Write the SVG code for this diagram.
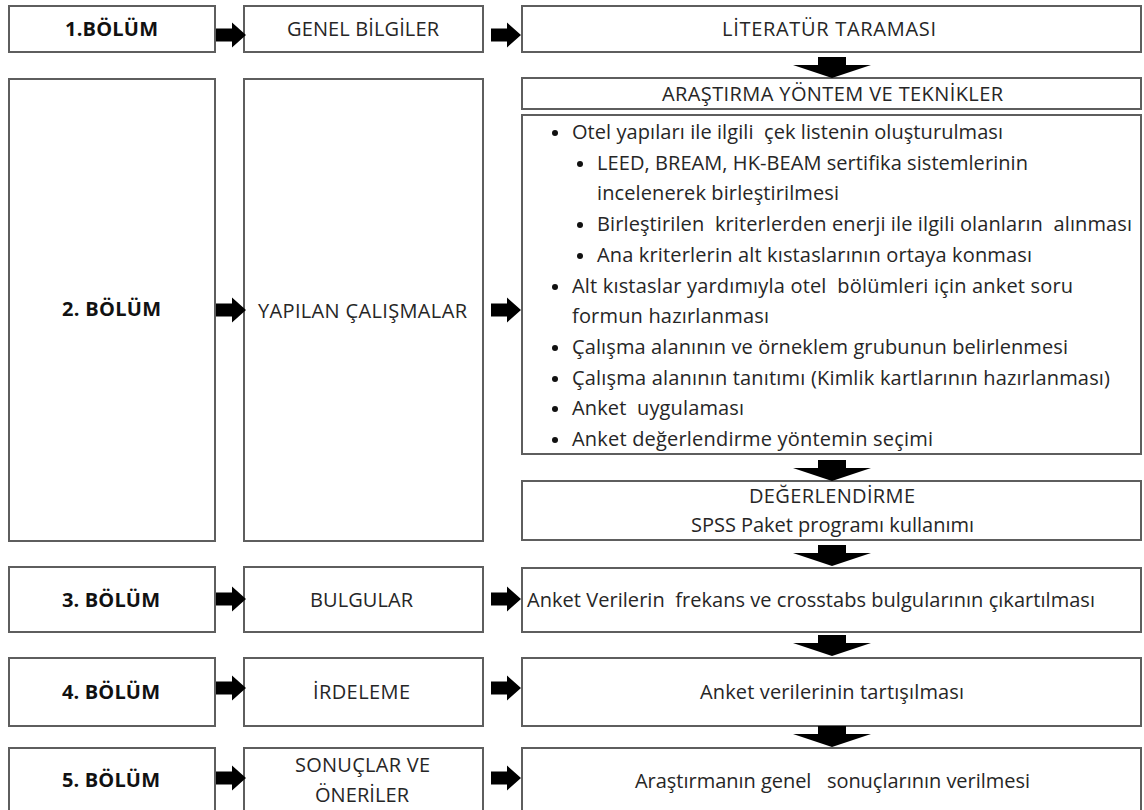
<svg xmlns="http://www.w3.org/2000/svg" width="1144" height="810" viewBox="0 0 1144 810">
<style>
.box{fill:#fff;stroke:#5e5e5e;stroke-width:2}
.t{font-family:"Open Sans","Noto Sans",Lato,"Liberation Sans",sans-serif;font-size:20px;fill:#262626;white-space:pre}
.b{font-weight:bold;fill:#111}
.c{text-anchor:middle}
.arr{fill:#000}
.dot{fill:#111}
</style>
<defs>
<path id="ra" class="arr" d="M-30,-6.5 H-14 V-12.5 L0,0 L-14,12.5 V6.5 H-30 Z"/>
<path id="da" class="arr" d="M-14,-21 H14 V-13 H39 L0,0 L-39,-13 H-14 Z"/>
</defs>
<rect width="1144" height="810" fill="#fff"/>

<g id="n-bolum1"><rect class="box" x="9" y="6" width="206" height="46"/><text class="t b c" x="111.5" y="36" textLength="93">1.BÖLÜM</text></g>
<g id="n-genel"><rect class="box" x="244" y="6" width="239" height="46"/><text class="t c" x="363" y="36" textLength="152">GENEL BİLGİLER</text></g>
<g id="n-literatur"><rect class="box" x="522" y="6" width="619" height="46"/><text class="t c" x="829" y="36" textLength="214">LİTERATÜR TARAMASI</text></g>

<g id="n-bolum2"><rect class="box" x="9" y="79" width="206" height="462"/><text class="t b c" x="111.5" y="316" textLength="99">2. BÖLÜM</text></g>
<g id="n-yapilan"><rect class="box" x="244" y="79" width="239" height="462"/><text class="t c" x="362.5" y="318" textLength="209">YAPILAN ÇALIŞMALAR</text></g>
<g id="n-arastirma"><rect class="box" x="522" y="78" width="619" height="31"/><text class="t c" x="832.5" y="101" textLength="341">ARAŞTIRMA YÖNTEM VE TEKNİKLER</text></g>
<g id="n-liste">
<rect class="box" x="522" y="115" width="619" height="339"/>
<circle class="dot" cx="555" cy="133" r="3"/><text class="t" x="572" y="139" textLength="431">Otel yapıları ile ilgili  çek listenin oluşturulması</text>
<circle class="dot" cx="580" cy="164" r="3"/><text class="t" x="597" y="170" textLength="431">LEED, BREAM, HK-BEAM sertifika sistemlerinin</text>
<text class="t" x="597" y="200" textLength="242">incelenerek birleştirilmesi</text>
<circle class="dot" cx="580" cy="225" r="3"/><text class="t" x="597" y="231" textLength="535">Birleştirilen  kriterlerden enerji ile ilgili olanların  alınması</text>
<circle class="dot" cx="580" cy="256" r="3"/><text class="t" x="597" y="262" textLength="435">Ana kriterlerin alt kıstaslarının ortaya konması</text>
<circle class="dot" cx="555" cy="287" r="3"/><text class="t" x="572" y="293" textLength="501">Alt kıstaslar yardımıyla otel  bölümleri için anket soru</text>
<text class="t" x="572" y="323" textLength="197">formun hazırlanması</text>
<circle class="dot" cx="555" cy="348" r="3"/><text class="t" x="572" y="354" textLength="496">Çalışma alanının ve örneklem grubunun belirlenmesi</text>
<circle class="dot" cx="555" cy="379" r="3"/><text class="t" x="572" y="385" textLength="538">Çalışma alanının tanıtımı (Kimlik kartlarının hazırlanması)</text>
<circle class="dot" cx="555" cy="409" r="3"/><text class="t" x="572" y="415" textLength="172">Anket  uygulaması</text>
<circle class="dot" cx="555" cy="440" r="3"/><text class="t" x="572" y="446" textLength="361">Anket değerlendirme yöntemin seçimi</text>
</g>
<g id="n-degerlendirme"><rect class="box" x="522" y="481" width="619" height="59"/><text class="t c" x="832" y="503" textLength="166">DEĞERLENDİRME</text><text class="t c" x="832.5" y="532" textLength="283">SPSS Paket programı kullanımı</text></g>

<g id="n-bolum3"><rect class="box" x="9" y="567" width="206" height="65"/><text class="t b c" x="111" y="607" textLength="98">3. BÖLÜM</text></g>
<g id="n-bulgular"><rect class="box" x="244" y="567" width="239" height="65"/><text class="t c" x="361.5" y="607" textLength="103">BULGULAR</text></g>
<g id="n-anketveri"><rect class="box" x="522" y="568" width="619" height="64"/><text class="t" x="527" y="607" textLength="568">Anket Verilerin  frekans ve crosstabs bulgularının çıkartılması</text></g>

<g id="n-bolum4"><rect class="box" x="9" y="658" width="206" height="68"/><text class="t b c" x="111" y="699" textLength="98">4. BÖLÜM</text></g>
<g id="n-irdeleme"><rect class="box" x="244" y="658" width="239" height="68"/><text class="t c" x="361.5" y="699" textLength="97">İRDELEME</text></g>
<g id="n-tartisma"><rect class="box" x="522" y="658" width="619" height="68"/><text class="t c" x="832" y="699" textLength="264">Anket verilerinin tartışılması</text></g>

<g id="n-bolum5"><rect class="box" x="9" y="748" width="206" height="80"/><text class="t b c" x="111" y="787" textLength="98">5. BÖLÜM</text></g>
<g id="n-sonuclar"><rect class="box" x="244" y="748" width="239" height="80"/><text class="t c" x="362.5" y="772" textLength="135">SONUÇLAR VE</text><text class="t c" x="362" y="802" textLength="94">ÖNERİLER</text></g>
<g id="n-genelsonuc"><rect class="box" x="522" y="748" width="619" height="80"/><text class="t c" x="832.5" y="788" textLength="395">Araştırmanın genel   sonuçlarının verilmesi</text></g>

<g id="connectors">
<use href="#ra" x="246" y="35"/><use href="#ra" x="521" y="35"/>
<use href="#ra" x="246" y="310"/><use href="#ra" x="521" y="310"/>
<use href="#ra" x="246" y="599"/><use href="#ra" x="521" y="599"/>
<use href="#ra" x="246" y="688"/><use href="#ra" x="521" y="688"/>
<use href="#ra" x="246" y="778"/><use href="#ra" x="521" y="778"/>
<use href="#da" x="832" y="78"/>
<use href="#da" x="832" y="481"/>
<use href="#da" x="832" y="566"/>
<use href="#da" x="832" y="656"/>
<use href="#da" x="832" y="747"/>
</g>
</svg>
